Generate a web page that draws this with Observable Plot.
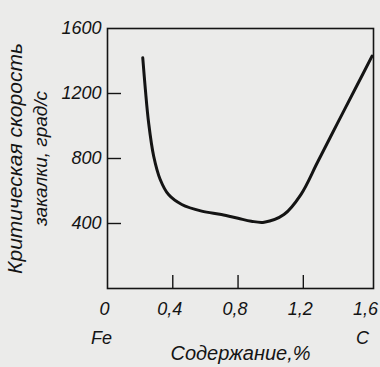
<!DOCTYPE html>
<html>
<head>
<meta charset="utf-8">
<script src="https://cdn.jsdelivr.net/npm/d3@7"></script>
<script src="https://cdn.jsdelivr.net/npm/@observablehq/plot@0.6"></script>
<style>
  html, body { margin: 0; padding: 0; background: #ebebea; }
  #chart svg { display: block; }
</style>
</head>
<body>
<div id="chart"></div>
<script>
// Carbon content, % (x) and critical quench rate, deg/s (y)
const carbon = [0.216, 0.232, 0.252, 0.283, 0.323, 0.374, 0.455, 0.577, 0.698, 0.80, 0.881, 0.96, 1.081, 1.185, 1.287, 1.408, 1.53, 1.621];
const rate   = [1420, 1225, 1020, 814, 671, 578, 517, 476, 455, 432, 414, 408, 455, 578, 777, 1015, 1252, 1430];
const xTicks = [0, 0.4, 0.8, 1.2, 1.6];
const yTicks = [400, 800, 1200, 1600];
const innerXTicks = [0.4, 0.8, 1.2];
const innerYTicks = [400, 800, 1200];
const endLabels = [{x: 0, label: "Fe"}, {x: 1.6, label: "C"}];

const data = carbon.map((c, i) => ({c, r: rate[i]}));
const fmt = d => String(d).replace(".", ",");
const font = "'Liberation Sans', 'DejaVu Sans', sans-serif";
const ink = "#141414";

const chart = Plot.plot({
  width: 380,
  height: 367,
  marginLeft: 107,
  marginRight: 7,
  marginTop: 28,
  marginBottom: 79,
  style: {background: "#ebebea", color: ink, fontFamily: font, fontStyle: "italic", fontSize: "18px"},
  x: {domain: [0, 1.63]},
  y: {domain: [0, 1600]},
  marks: [
    Plot.frame({stroke: ink, strokeWidth: 1.6}),
    Plot.axisY(yTicks, {tickSize: 0, tickPadding: 6, tickFormat: d => String(d), fontSize: 18, label: null}),
    Plot.axisX(xTicks, {tickSize: 0, tickPadding: 14, tickFormat: fmt, fontSize: 18, label: null, dx: -3}),
    Plot.tickY(innerYTicks, {y: d => d, stroke: ink, strokeWidth: 1.4, insetRight: 252}),
    Plot.tickX(innerXTicks, {x: d => d, stroke: ink, strokeWidth: 1.4, insetTop: 247}),
    Plot.line(data, {x: "c", y: "r", curve: "catmull-rom", stroke: ink, strokeWidth: 3}),
    Plot.text(endLabels, {x: "x", text: "label", frameAnchor: "bottom", dy: 55, dx: -6, fontSize: 18}),
    Plot.text(["Содержание,%"], {frameAnchor: "bottom", dy: 71, fontSize: 20}),
    Plot.text(["Критическая скорость"], {frameAnchor: "left", textAnchor: "middle", dx: -92, rotate: -90, fontSize: 21}),
    Plot.text(["закалки, град/с"], {frameAnchor: "left", textAnchor: "middle", dx: -67, rotate: -90, fontSize: 19})
  ]
});
document.getElementById("chart").appendChild(chart);
</script>
</body>
</html>
